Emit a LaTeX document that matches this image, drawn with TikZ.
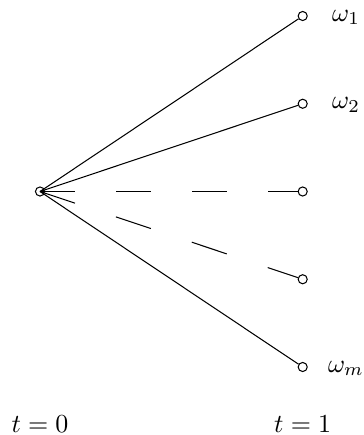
\documentclass[tikz,border=0pt]{standalone}
\begin{document}
\begin{tikzpicture}[x=0.385pt,y=-0.385pt,line width=0.4pt,
  dot/.style={circle,draw,inner sep=0pt,minimum size=3.5pt},
  lbl/.style={anchor=base,inner sep=0pt},
  dashmid/.style={dash pattern=on 13.47pt off 15.79pt},
  dashlow/.style={dash pattern=on 14.19pt off 16.62pt}]
\useasboundingbox (0,0) rectangle (364,435);
\node[dot] (r) at (40,191.5) {};
\node[dot] (w1) at (302.7,16) {};
\node[dot] (w2) at (302.7,103.75) {};
\node[dot] (w3) at (302.7,191.5) {};
\node[dot] (w4) at (302.7,279.25) {};
\node[dot] (w5) at (302.7,367) {};
\draw (r.center) -- (w1);
\draw (r.center) -- (w2);
\draw[dashmid] (r.center) -- (w3);
\draw[dashlow] (r.center) -- (w4);
\draw (r.center) -- (w5);
\node[lbl] (l1) at (346,21) {$\omega_1$};
\node[lbl] (l2) at (346,108.75) {$\omega_2$};
\node[lbl] (lm) at (346,372) {$\omega_m$};
\node[lbl] (t0) at (40,432.5) {$t=0$};
\node[lbl] (t1) at (302.7,432.5) {$t=1$};
\end{tikzpicture}
\end{document}
